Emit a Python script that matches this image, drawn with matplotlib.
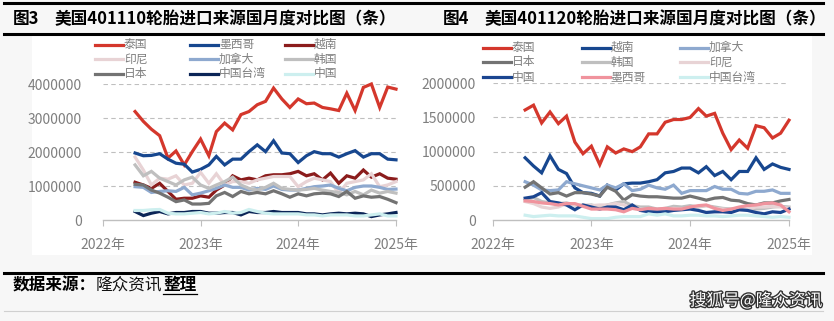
"""
US tyre import source comparison (401110 / 401120), monthly.
Two panels side by side in a report-style frame.
"""
import matplotlib
matplotlib.use("Agg")
import matplotlib.pyplot as plt
import matplotlib.dates as mdates
import matplotlib.patheffects as pe
from matplotlib.lines import Line2D
from matplotlib.patches import Rectangle
import pandas as pd

plt.rcParams["font.family"] = ["Noto Sans CJK SC", "DejaVu Sans"]

W, H = 834, 321
GRID = "#BFBFBF"
TICK = "#7F7F7F"

months = pd.date_range("2022-05-01", periods=33, freq="MS")
year_ticks = pd.to_datetime(["2022-01-01", "2023-01-01", "2024-01-01", "2025-01-01"])

# ---- 图3: 401110 (million tyres) ----
th_110 = [3.19, 2.90, 2.67, 2.48, 1.82, 2.03, 1.62, 2.01, 2.38, 1.89, 2.60, 2.85, 2.65,
          3.10, 3.19, 3.39, 3.49, 3.88, 3.56, 3.31, 3.56, 3.42, 3.44, 3.31, 3.27, 3.22,
          3.73, 3.22, 3.90, 4.00, 3.31, 3.91, 3.85]
mx_110 = [1.97, 1.89, 1.90, 1.95, 1.79, 1.67, 1.64, 1.41, 1.49, 1.62, 1.87, 1.62, 1.79,
          1.79, 2.01, 2.21, 2.01, 2.33, 1.97, 1.95, 1.69, 1.89, 2.01, 1.95, 1.95, 1.85,
          1.95, 2.04, 1.85, 1.95, 1.95, 1.79, 1.77]
vn_110 = [1.11, 1.03, 0.93, 1.08, 0.84, 0.61, 0.64, 0.64, 0.71, 0.67, 0.88, 1.03, 1.30,
          1.18, 1.23, 1.18, 1.30, 1.33, 1.33, 1.36, 1.43, 1.30, 1.36, 1.18, 1.38, 1.08,
          1.30, 1.23, 1.47, 1.26, 1.36, 1.23, 1.20]
id_110 = [1.85, 1.47, 1.03, 1.23, 1.20, 1.30, 1.03, 1.08, 1.40, 1.08, 1.36, 1.03, 1.13,
          1.13, 1.08, 1.18, 1.23, 1.28, 1.28, 1.28, 0.98, 1.13, 1.23, 1.18, 1.13, 0.79,
          1.08, 1.13, 1.18, 1.36, 0.98, 1.03, 1.13]
ca_110 = [0.98, 0.96, 0.81, 0.84, 0.86, 0.84, 0.96, 0.74, 0.79, 0.86, 0.93, 1.03, 0.96,
          0.96, 0.88, 0.93, 0.90, 1.00, 0.90, 0.88, 0.88, 0.93, 0.98, 1.00, 1.03, 0.93,
          0.86, 0.96, 1.00, 1.00, 0.96, 0.90, 0.91]
kr_110 = [1.62, 1.30, 1.43, 1.23, 1.13, 1.03, 1.18, 1.26, 1.03, 0.93, 1.03, 1.13, 1.26,
          1.03, 0.93, 0.88, 0.96, 1.08, 0.93, 0.90, 0.88, 0.90, 0.93, 0.88, 0.84, 0.81,
          0.74, 0.84, 0.74, 0.88, 0.79, 0.84, 0.79]
jp_110 = [1.05, 1.03, 0.88, 0.79, 0.67, 0.54, 0.59, 0.47, 0.47, 0.49, 0.71, 0.81, 0.69,
          0.84, 0.77, 0.81, 0.77, 0.86, 0.77, 0.67, 0.77, 0.71, 0.77, 0.79, 0.77, 0.69,
          0.84, 0.64, 0.71, 0.67, 0.69, 0.61, 0.51]
tw_110 = [0.25, 0.13, 0.20, 0.25, 0.18, 0.22, 0.22, 0.25, 0.25, 0.20, 0.20, 0.22, 0.22,
          0.15, 0.25, 0.22, 0.22, 0.25, 0.22, 0.22, 0.22, 0.18, 0.18, 0.15, 0.18, 0.20,
          0.18, 0.20, 0.18, 0.10, 0.15, 0.18, 0.22]
cn_110 = [0.28, 0.28, 0.30, 0.31, 0.20, 0.18, 0.18, 0.20, 0.22, 0.18, 0.20, 0.25, 0.20,
          0.22, 0.31, 0.25, 0.20, 0.18, 0.18, 0.18, 0.18, 0.15, 0.15, 0.12, 0.15, 0.15,
          0.15, 0.12, 0.12, 0.15, 0.18, 0.12, 0.12]

# ---- 图4: 401120 (million tyres) ----
th_120 = [1.61, 1.68, 1.42, 1.58, 1.41, 1.52, 1.14, 0.97, 1.08, 0.81, 1.07, 0.98, 1.04,
          1.00, 1.07, 1.26, 1.26, 1.43, 1.47, 1.47, 1.50, 1.63, 1.52, 1.56, 1.27, 1.03,
          1.17, 1.05, 1.38, 1.35, 1.20, 1.27, 1.46]
vn_120 = [0.91, 0.79, 0.69, 0.94, 0.74, 0.68, 0.47, 0.40, 0.39, 0.35, 0.51, 0.44, 0.53,
          0.54, 0.54, 0.56, 0.59, 0.69, 0.71, 0.76, 0.76, 0.69, 0.78, 0.65, 0.71, 0.59,
          0.71, 0.71, 0.91, 0.74, 0.82, 0.77, 0.74]
ca_120 = [0.56, 0.51, 0.44, 0.43, 0.44, 0.56, 0.53, 0.50, 0.47, 0.44, 0.51, 0.47, 0.53,
          0.43, 0.45, 0.51, 0.47, 0.45, 0.51, 0.39, 0.43, 0.43, 0.43, 0.49, 0.45, 0.45,
          0.39, 0.38, 0.42, 0.42, 0.44, 0.39, 0.39]
jp_120 = [0.48, 0.56, 0.47, 0.38, 0.40, 0.35, 0.40, 0.40, 0.38, 0.35, 0.48, 0.42, 0.29,
          0.37, 0.35, 0.34, 0.34, 0.33, 0.32, 0.32, 0.35, 0.32, 0.29, 0.32, 0.33, 0.29,
          0.28, 0.24, 0.22, 0.25, 0.25, 0.28, 0.30]
kr_120 = [0.29, 0.33, 0.27, 0.25, 0.24, 0.25, 0.22, 0.21, 0.22, 0.19, 0.22, 0.25, 0.27,
          0.21, 0.19, 0.19, 0.16, 0.17, 0.20, 0.19, 0.21, 0.19, 0.21, 0.19, 0.17, 0.16,
          0.17, 0.15, 0.16, 0.17, 0.19, 0.20, 0.19]
id_120 = [0.27, 0.24, 0.19, 0.17, 0.19, 0.24, 0.22, 0.22, 0.21, 0.22, 0.22, 0.24, 0.22,
          0.17, 0.16, 0.15, 0.15, 0.16, 0.17, 0.16, 0.17, 0.20, 0.21, 0.17, 0.16, 0.15,
          0.15, 0.16, 0.19, 0.19, 0.20, 0.19, 0.17]
cn_120 = [0.32, 0.34, 0.40, 0.27, 0.25, 0.22, 0.15, 0.22, 0.19, 0.16, 0.19, 0.19, 0.15,
          0.22, 0.14, 0.12, 0.12, 0.12, 0.14, 0.15, 0.16, 0.14, 0.11, 0.12, 0.12, 0.11,
          0.15, 0.14, 0.11, 0.09, 0.12, 0.11, 0.16]
mx_120 = [0.28, 0.27, 0.25, 0.24, 0.22, 0.24, 0.24, 0.20, 0.16, 0.16, 0.16, 0.15, 0.12,
          0.17, 0.15, 0.17, 0.16, 0.17, 0.16, 0.16, 0.19, 0.21, 0.22, 0.17, 0.14, 0.16,
          0.19, 0.21, 0.22, 0.24, 0.25, 0.22, 0.12]
tw_120 = [0.07, 0.05, 0.06, 0.07, 0.06, 0.06, 0.06, 0.04, 0.02, 0.02, 0.02, 0.04, 0.05,
          0.05, 0.05, 0.09, 0.07, 0.09, 0.06, 0.06, 0.07, 0.07, 0.06, 0.06, 0.05, 0.06,
          0.07, 0.07, 0.06, 0.05, 0.04, 0.05, 0.04]

series_110 = [
    ("泰国", th_110, "#D4372C"), ("墨西哥", mx_110, "#17478F"), ("越南", vn_110, "#8B1C1C"),
    ("印尼", id_110, "#E8D3D5"), ("加拿大", ca_110, "#8EA9CF"), ("韩国", kr_110, "#BFBFBF"),
    ("日本", jp_110, "#737373"), ("中国台湾", tw_110, "#0B2557"), ("中国", cn_110, "#CDEFEF"),
]
series_120 = [
    ("泰国", th_120, "#D4372C"), ("越南", vn_120, "#17478F"), ("加拿大", ca_120, "#8EA9CF"),
    ("日本", jp_120, "#737373"), ("韩国", kr_120, "#BFBFBF"), ("印尼", id_120, "#E8D3D5"),
    ("中国", cn_120, "#1A4590"), ("墨西哥", mx_120, "#F0939D"), ("中国台湾", tw_120, "#CDEFEF"),
]


def fx(px):
    return px / W


def fy(py):
    return 1 - py / H


def draw_panel(fig, rect, series, ymax, ystep, label_pad):
    l, t, r, b = rect
    ax = fig.add_axes([fx(l), fy(b), fx(r) - fx(l), fy(t) - fy(b)])
    ax.set_facecolor("none")
    for name, vals, color in series:
        ax.plot(months, [v * 1e6 for v in vals], color=color, lw=2.3,
                solid_joinstyle="miter", clip_on=False)
    ax.set_xlim(year_ticks[0], year_ticks[-1])
    ax.set_ylim(0, ymax)
    ax.set_yticks(range(0, int(ymax) + 1, int(ystep)))
    ax.yaxis.set_major_formatter(plt.FuncFormatter(lambda v, _: f"{v:.0f}"))
    ax.set_xticks(year_ticks)
    ax.xaxis.set_major_formatter(mdates.DateFormatter("%Y年"))
    for s in ("top", "right", "left"):
        ax.spines[s].set_visible(False)
    ax.spines["bottom"].set_color(GRID)
    ax.spines["bottom"].set_linewidth(1.0)
    ax.yaxis.grid(True, color=GRID, lw=0.8, linestyle=(0, (4, 3)))
    ax.set_axisbelow(True)
    ax.tick_params(axis="y", length=0, labelsize=10, labelcolor=TICK, pad=label_pad)
    ax.tick_params(axis="x", length=4, color=GRID, labelsize=10, labelcolor=TICK, pad=9)
    # the spine sits on zero, no dashed line there
    ax.get_ygridlines()[0].set_visible(False)
    return ax


def draw_legend(fig, series, x0, dx, rows_y, line_len=28):
    for i, (name, vals, color) in enumerate(series):
        x = x0 + (i % 3) * dx
        y = rows_y[i // 3]
        fig.add_artist(Line2D([fx(x), fx(x + line_len)], [fy(y), fy(y)],
                              color=color, lw=2.3, transform=fig.transFigure))
        fig.text(fx(x + line_len + 1), fy(y), name, fontsize=8.5, color=TICK,
                 ha="left", va="center")


fig = plt.figure(figsize=(W / 100, H / 100), dpi=100)
fig.patch.set_facecolor("#F7F7F7")

# white chart panel
fig.add_artist(Rectangle((fx(32), fy(255)), fx(812) - fx(32), fy(36) - fy(255),
                         transform=fig.transFigure, facecolor="white", edgecolor="none",
                         zorder=0))

# frame rules
for y, lw, c in [(3, 2.2, "black"), (33.5, 2.2, "black"), (272.5, 2.2, "black"),
                 (311, 0.8, "#D0D0D0")]:
    fig.add_artist(Line2D([fx(4), fx(823)], [fy(y), fy(y)], color=c, lw=lw,
                          transform=fig.transFigure))

# titles
title_kw = dict(fontsize=12, fontweight="bold", color="black", va="center")
fig.text(fx(13), fy(19), "图3", ha="left", **title_kw)
fig.text(fx(55), fy(19), "美国401110轮胎进口来源国月度对比图（条）", ha="left", **title_kw)
fig.text(fx(443), fy(19), "图4", ha="left", **title_kw)
fig.text(fx(485), fy(19), "美国401120轮胎进口来源国月度对比图（条）", ha="left", **title_kw)

draw_panel(fig, (103, 84, 396, 220), series_110, 4e6, 1e6, 15)
draw_panel(fig, (492.7, 83.3, 789, 220), series_120, 2e6, 5e5, 12)

draw_legend(fig, series_110, 95, 95, [44.5, 59, 73.5])
draw_legend(fig, series_120, 483, 98.5, [47.5, 62, 77])

# source line
fig.text(fx(13), fy(285), "数据来源：", fontsize=12, fontweight="bold", ha="left", va="center")
fig.text(fx(96), fy(285), "隆众资讯", fontsize=12, ha="left", va="center", color="#111111")
fig.text(fx(163), fy(285), "整理", fontsize=12, fontweight="bold", ha="left", va="center")
fig.add_artist(Line2D([fx(163), fx(197)], [fy(294), fy(294)], color="black", lw=0.9,
                      transform=fig.transFigure))

# watermark
fig.text(fx(822), fy(301), "搜狐号@隆众资讯", fontsize=12, color="white", ha="right",
         va="center", path_effects=[pe.withStroke(linewidth=2, foreground="#333333")])

fig.savefig("out.png", dpi=100, facecolor=fig.get_facecolor())
plt.close(fig)
